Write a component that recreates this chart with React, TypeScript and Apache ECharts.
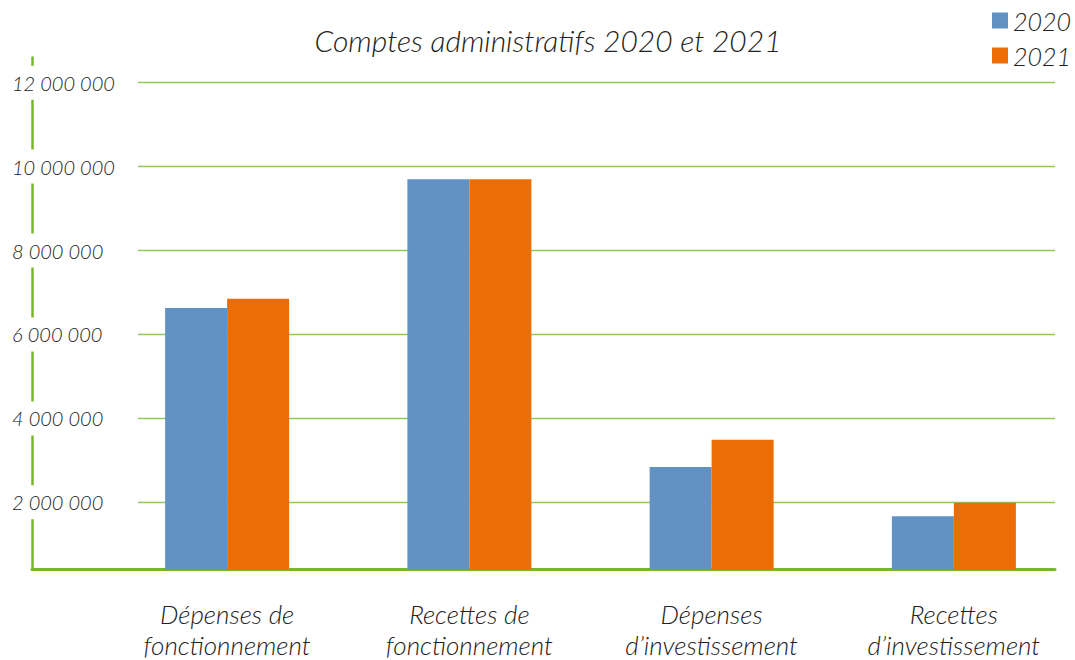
import { useEffect, useRef } from 'react';
import * as echarts from 'echarts';

const titleText = 'Comptes administratifs 2020 et 2021';
const categories = [
  'Dépenses de\nfonctionnement',
  'Recettes de\nfonctionnement',
  'Dépenses\nd’investissement',
  'Recettes\nd’investissement',
];
const seriesNames = ['2020', '2021'];
const values2020 = [6630000, 9700000, 2840000, 1670000];
const values2021 = [6850000, 9700000, 3490000, 1990000];
const yMin = 400000;
const yMax = 12600000;

const fmt = (v: number) => String(Math.round(v)).replace(/\B(?=(\d{3})+(?!\d))/g, ' ');

const FONT = 'Lato';
const GREEN = '#76B82A';
const GRID_GREEN = '#8FC95A';

export default function App() {
  const ref = useRef<HTMLDivElement>(null);
  useEffect(() => {
    if (!ref.current) return;
    const chart = echarts.init(ref.current, undefined, { renderer: 'svg' });
    chart.setOption({
      animation: false,
      backgroundColor: '#ffffff',
      title: {
        text: titleText,
        left: 543,
        top: 20,
        textAlign: 'center',
        textStyle: { fontFamily: FONT, fontStyle: 'italic', fontWeight: 300, fontSize: 30, color: '#222' },
      },
      legend: {
        orient: 'vertical',
        left: 987,
        top: 3,
        itemWidth: 16,
        itemHeight: 16,
        itemGap: 10,
        icon: 'rect',
        data: seriesNames,
        textStyle: { fontFamily: FONT, fontStyle: 'italic', fontWeight: 300, fontSize: 25, lineHeight: 24, color: '#222' },
      },
      grid: [
        { left: 32, right: 20, top: 57.5, bottom: 90.5, outerBoundsMode: 'none', containLabel: false },
        { left: 106, right: 0, top: 57.5, bottom: 90.5, outerBoundsMode: 'none', containLabel: false },
      ],
      xAxis: [
        {
          gridIndex: 0,
          type: 'value',
          min: 0,
          max: 1,
          axisLine: { show: true, lineStyle: { color: GREEN, width: 3 } },
          axisTick: { show: false },
          axisLabel: { show: false },
          splitLine: { show: false },
        },
        {
          gridIndex: 1,
          type: 'category',
          data: categories,
          axisLine: { show: false },
          axisTick: { show: false },
          axisLabel: {
            margin: 29,
            fontFamily: FONT,
            fontStyle: 'italic',
            fontWeight: 300,
            fontSize: 26,
            lineHeight: 31,
            color: '#222',
            interval: 0,
          },
        },
      ],
      yAxis: [
        {
          gridIndex: 0,
          type: 'value',
          min: yMin,
          max: yMax,
          splitNumber: 6,
          axisLine: { show: true, lineStyle: { color: GREEN, width: 2.5 } },
          axisTick: { show: false },
          splitLine: { show: true, showMinLine: false, showMaxLine: false, lineStyle: { color: GRID_GREEN, width: 1.3 } },
          axisLabel: {
            showMinLabel: false,
            showMaxLabel: false,
            margin: 20,
            align: 'left',
            width: 126,
            backgroundColor: '#ffffff',
            padding: [7, 0, 7, 0],
            fontFamily: FONT,
            fontStyle: 'italic',
            fontWeight: 300,
            fontSize: 20,
            color: '#222',
            formatter: (v: number) => fmt(v),
          },
        },
        {
          gridIndex: 1,
          type: 'value',
          min: yMin,
          max: yMax,
          show: false,
          splitLine: { show: false },
        },
      ],
      series: [
        {
          name: seriesNames[0],
          type: 'bar',
          xAxisIndex: 1,
          yAxisIndex: 1,
          data: values2020,
          barWidth: 62,
          barGap: '0%',
          itemStyle: { color: '#6192C3' },
        },
        {
          name: seriesNames[1],
          type: 'bar',
          xAxisIndex: 1,
          yAxisIndex: 1,
          data: values2021,
          barWidth: 62,
          barGap: '0%',
          itemStyle: { color: '#EC6C06' },
        },
      ],
    });
    return () => chart.dispose();
  }, []);
  return <div ref={ref} style={{ position: 'fixed', left: 0, top: 0, width: 1075, height: 660 }} />;
}
